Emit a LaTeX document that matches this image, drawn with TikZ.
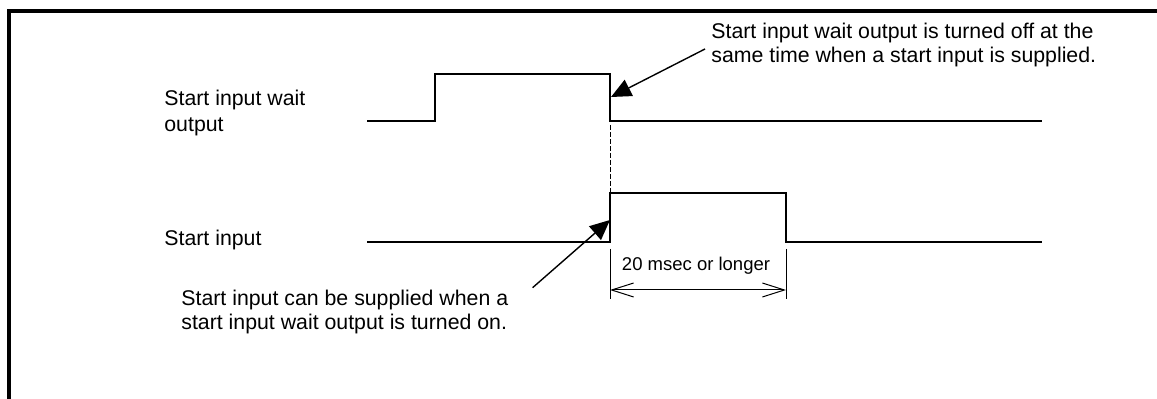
\documentclass[tikz,border=0pt]{standalone}
\usepackage{fontspec}
\setmainfont{Liberation Sans}
\usetikzlibrary{arrows.meta}

\begin{document}
\begin{tikzpicture}[x=0.5pt, y=-0.5pt,
    every node/.style={font=\fontsize{10.65}{12}\selectfont, inner sep=0pt},
    note/.style={align=left, anchor=west},
    wave/.style={line width=1pt, line join=miter},
    ptr/.style={-{Triangle[length=10pt,width=9pt]}, line width=0.7pt},
    dim/.style={{Straight Barb[length=11pt,width=7pt]}-{Straight Barb[length=11pt,width=7pt]}, line width=0.5pt}]
    \useasboundingbox (0,0) rectangle (1157,399);
    % frame
    \draw[line width=1.6pt] (1157,11) -| (9,399);
    % signal names
    \node[note, font=\fontsize{10.65}{13}\selectfont] (waitlbl) at (164,113) {Start input wait\\output};
    \node[note] (startlbl) at (164,240) {Start input};
    % waveforms
    \draw[wave] (367,121) -- (435,121) -- (435,74) -- (610,74) -- (610,121) -- (1042,121);
    \draw[wave] (367,242) -- (610,242) -- (610,193) -- (786,193) -- (786,242) -- (1042,242);
    \coordinate (offedge) at (611,97);
    \coordinate (onedge) at (610,220);
    \draw[line width=0.5pt, dash pattern=on 2.5pt off 1pt] (610,125) -- (610,193);
    % pulse width
    \draw[line width=0.5pt] (610,249) -- (610,299) (786,249) -- (786,299);
    \coordinate (dimL) at (610,290);
    \coordinate (dimR) at (786,290);
    \draw[dim] (dimL) -- (dimR);
    \node[font=\fontsize{9.25}{11}\selectfont] (widthlbl) at (696,266) {20 msec or longer};
    % notes
    \node[note] (offnote) at (711,45) {Start input wait output is turned off at the\\same time when a start input is supplied.};
    \node[note] (onnote) at (181,312) {Start input can be supplied when a\\start input wait output is turned on.};
    \draw[ptr] ([shift={(-6,4)}]offnote.west) -- (offedge);
    \draw[ptr] ([shift={(24,-2)}]onnote.north east) -- (onedge);
\end{tikzpicture}
\end{document}
